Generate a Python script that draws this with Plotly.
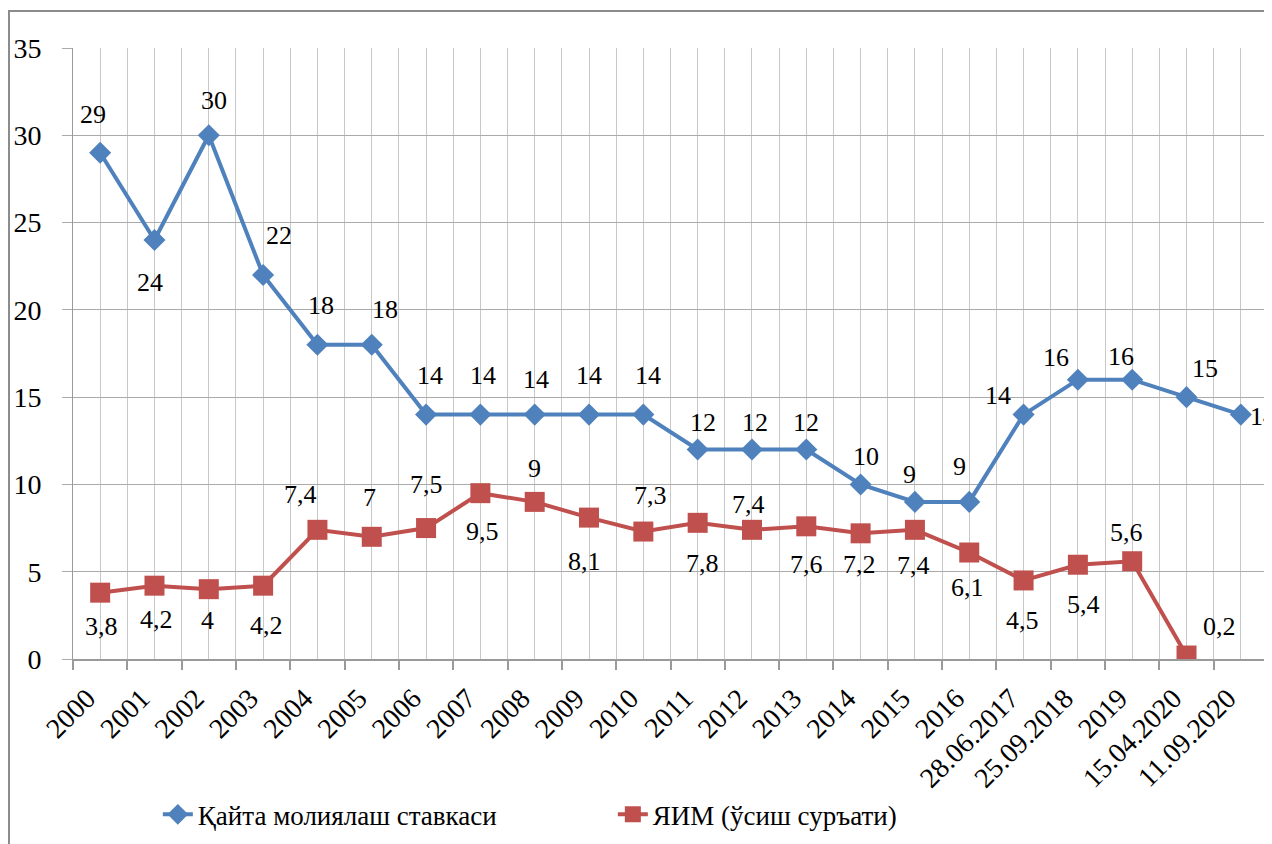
import plotly.graph_objects as go

categories = ["2000", "2001", "2002", "2003", "2004", "2005", "2006", "2007", "2008",
              "2009", "2010", "2011", "2012", "2013", "2014", "2015", "2016",
              "28.06.2017", "25.09.2018", "2019", "15.04.2020", "11.09.2020"]

refinancing_rate = [29, 24, 30, 22, 18, 18, 14, 14, 14, 14, 14, 12, 12, 12, 10, 9, 9,
                    14, 16, 16, 15, 14]

gdp_growth = [3.8, 4.2, 4, 4.2, 7.4, 7, 7.5, 9.5, 9, 8.1, 7.3, 7.8, 7.4, 7.6, 7.2, 7.4,
              6.1, 4.5, 5.4, 5.6, 0.2]

y_ticks = [0, 5, 10, 15, 20, 25, 30, 35]

series_names = ["Қайта молиялаш ставкаси", "ЯИМ (ўсиш суръати)"]

# label offsets in pixels (dx right, dy down) – styling only
blue_label_offsets = [(-7, -38), (-4, 42), (5, -35), (16, -39), (4, -39), (13, -35),
                      (4, -39), (3, -39), (1, -35), (0, -39), (5, -39), (5, -27),
                      (3, -27), (0, -27), (5, -28), (-5, -27), (-10, -35), (-26, -19),
                      (-22, -22), (-11, -23), (18, -29), (22, 2)]
red_label_offsets = [(1, 34), (2, 34), (-1, 31), (3, 40), (-17, -35), (-2, -39),
                     (0, -44), (2, 38), (0, -33), (-5, 44), (7, -36), (5, 41),
                     (-3, -25), (0, 38), (-1, 31), (-1, 36), (-2, 35), (-1, 40),
                     (6, 40), (-6, -29), (33, -29)]

BLUE = "#4F81BD"
RED = "#C0504D"
FONT = "Liberation Serif"

def fmt(v):
    return str(v).replace(".", ",")

x_blue = list(range(len(refinancing_rate)))
x_red = list(range(len(gdp_growth)))

fig = go.Figure()
fig.add_trace(go.Scatter(
    x=x_blue, y=refinancing_rate, name=series_names[0], mode="lines+markers",
    line=dict(color=BLUE, width=4),
    marker=dict(symbol="diamond", size=17, color=BLUE),
))
fig.add_trace(go.Scatter(
    x=x_red, y=gdp_growth, name=series_names[1], mode="lines+markers",
    line=dict(color=RED, width=4),
    marker=dict(symbol="square", size=20, color=RED),
))

annotations = []
for xi, v, (dx, dy) in zip(x_blue, refinancing_rate, blue_label_offsets):
    annotations.append(dict(x=xi, y=v, xref="x", yref="y", text=fmt(v), showarrow=False,
                            xshift=dx, yshift=-dy, font=dict(family=FONT, size=26, color="black")))
for xi, v, (dx, dy) in zip(x_red, gdp_growth, red_label_offsets):
    annotations.append(dict(x=xi, y=v, xref="x", yref="y", text=fmt(v), showarrow=False,
                            xshift=dx, yshift=-dy, font=dict(family=FONT, size=26, color="black")))

n = len(categories)
fig.update_layout(
    width=1264, height=836,
    margin=dict(l=65, r=4, t=40, b=185),
    paper_bgcolor="white", plot_bgcolor="white",
    font=dict(family=FONT, size=26, color="black"),
    showlegend=True,
    legend=dict(orientation="h", x=0.071, y=-0.255, xanchor="left", yanchor="middle",
                font=dict(family=FONT, size=27, color="black"),
                entrywidth=410, entrywidthmode="pixels"),
    annotations=annotations,
    xaxis=dict(
        range=[-0.5, n - 0.5],
        tickmode="array", tickvals=list(range(n)), ticktext=categories,
        tickangle=-45, ticks="", showgrid=True, gridcolor="#C8C8C8", gridwidth=1,
        tickfont=dict(family=FONT, size=28, color="black"),
        ticklabelstandoff=10, ticklabelshift=-13,
        showline=True, linecolor="#9A9A9A", linewidth=1.5,
        zeroline=False, fixedrange=True,
        minor=dict(tickvals=[i - 0.5 for i in range(n + 1)], showgrid=True,
                   gridcolor="#C8C8C8", gridwidth=1, ticks="outside", ticklen=9,
                   tickcolor="#9A9A9A", tickwidth=1.5),
    ),
    yaxis=dict(
        range=[0, 35], tickmode="array", tickvals=y_ticks,
        showgrid=True, gridcolor="#AAAAAA", gridwidth=1,
        ticks="outside", ticklen=10, tickcolor="#AAAAAA",
        tickfont=dict(family=FONT, size=28, color="black"),
        ticklabelstandoff=15,
        showline=True, linecolor="#9A9A9A", linewidth=1,
        zeroline=False, fixedrange=True,
    ),
    shapes=[dict(type="rect", xref="paper", yref="paper",
                 x0=(1 - 65) / 1195, x1=1.2, y0=-0.6, y1=(651 - 3) / 611,
                 line=dict(color="#8C8C8C", width=2), fillcolor="rgba(0,0,0,0)",
                 layer="above")],
)

fig.write_html("out.html")
